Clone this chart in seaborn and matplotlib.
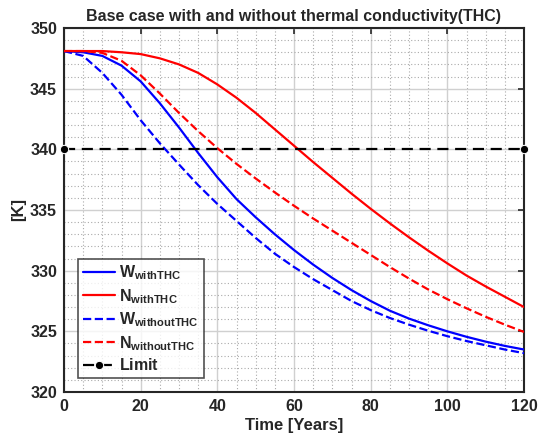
import matplotlib
matplotlib.use("Agg")
import matplotlib.pyplot as plt
import seaborn as sns
import pandas as pd
from matplotlib.ticker import MultipleLocator

# ---- data ----
time = [0, 5, 10, 15, 20, 25, 30, 35, 40, 45, 50, 55, 60,
        65, 70, 75, 80, 85, 90, 95, 100, 105, 110, 115, 120]
w_with = [348.1, 348.0, 347.7, 346.9, 345.6, 343.8, 341.8, 339.7, 337.7, 335.9, 334.4, 333.0, 331.7,
          330.5, 329.4, 328.4, 327.5, 326.7, 326.05, 325.5, 325.0, 324.55, 324.15, 323.8, 323.5]
n_with = [348.1, 348.1, 348.1, 348.0, 347.85, 347.5, 347.0, 346.3, 345.35, 344.25, 343.0, 341.65, 340.3,
          338.95, 337.65, 336.35, 335.1, 333.9, 332.75, 331.65, 330.6, 329.6, 328.7, 327.85, 327.0]
w_without = [348.1, 347.7, 346.3, 344.5, 342.4, 340.5, 338.75, 337.05, 335.5, 334.1, 332.7, 331.4, 330.3,
             329.3, 328.4, 327.5, 326.75, 326.1, 325.55, 325.05, 324.6, 324.2, 323.85, 323.5, 323.2]
n_without = [348.1, 348.1, 347.95, 347.3, 346.1, 344.6, 343.0, 341.5, 340.1, 338.8, 337.6, 336.45, 335.35,
             334.3, 333.3, 332.3, 331.3, 330.3, 329.35, 328.45, 327.65, 326.9, 326.2, 325.55, 324.95]
limit_time = [0, 120]
limit_value = [340, 340]

labels = [r'$\mathbf{W_{withTHC}}$', r'$\mathbf{N_{withTHC}}$',
          r'$\mathbf{W_{withoutTHC}}$', r'$\mathbf{N_{withoutTHC}}$', r'$\mathbf{Limit}$']

sns.set_theme(style="white")
plt.rcParams['font.family'] = ['Liberation Sans', 'DejaVu Sans']
plt.rcParams['mathtext.fontset'] = 'custom'
plt.rcParams['mathtext.rm'] = 'Liberation Sans'
plt.rcParams['mathtext.bf'] = 'Liberation Sans:bold'
plt.rcParams['mathtext.it'] = 'Liberation Sans:italic'

fig = plt.figure(figsize=(5.39, 4.42), dpi=100)
ax = fig.add_axes([64/539, 1-392/442, 460/539, 364/442])

series = [(w_with, 'blue', '-'), (n_with, 'red', '-'),
          (w_without, 'blue', '--'), (n_without, 'red', '--')]
for (vals, col, ls), lab in zip(series, labels[:4]):
    df = pd.DataFrame({'t': time, 'v': vals})
    sns.lineplot(data=df, x='t', y='v', ax=ax, color=col, linestyle=ls,
                 linewidth=1.6, label=lab, zorder=3)
dfl = pd.DataFrame({'t': limit_time, 'v': limit_value})
sns.lineplot(data=dfl, x='t', y='v', ax=ax, color='black', linestyle=(0, (5, 3)),
             linewidth=1.6, marker='o', markersize=6, label=labels[4], zorder=4,
             clip_on=False)

ax.set_xlim(0, 120)
ax.set_ylim(320, 350)
ax.xaxis.set_major_locator(MultipleLocator(20))
ax.yaxis.set_major_locator(MultipleLocator(5))
ax.xaxis.set_minor_locator(MultipleLocator(5))
ax.yaxis.set_minor_locator(MultipleLocator(1))
ax.grid(which='major', color='#d0d0d0', linestyle='-', linewidth=1.0, zorder=0)
ax.grid(which='minor', color='#aaaaaa', linestyle=(0, (1, 2)), linewidth=0.8, zorder=0)
ax.set_axisbelow(True)
ax.tick_params(which='major', direction='in', length=4, width=1.2, top=True, right=True,
               labelsize=11.5, colors='#262626', pad=5)
ax.tick_params(which='minor', length=0)
for lab in ax.get_xticklabels() + ax.get_yticklabels():
    lab.set_fontweight('bold')
for sp in ax.spines.values():
    sp.set_color('#262626')
    sp.set_linewidth(1.5)

ax.set_title('Base case with and without thermal conductivity(THC)', fontsize=11.5,
             fontweight='bold', pad=5)
ax.set_xlabel('Time [Years]', fontsize=12, fontweight='bold', labelpad=3)
ax.set_ylabel('[K]', fontsize=12, fontweight='bold', labelpad=3)

leg = ax.legend(loc='lower left', bbox_to_anchor=(0.03, 0.038), borderaxespad=0,
                fontsize=11.5, frameon=True, fancybox=False, edgecolor='#262626',
                handlelength=2.0, handletextpad=0.3, labelspacing=0.3, borderpad=0.3)
leg.get_frame().set_linewidth(1.2)
leg.set_zorder(10)

fig.savefig('out.png', dpi=100)
